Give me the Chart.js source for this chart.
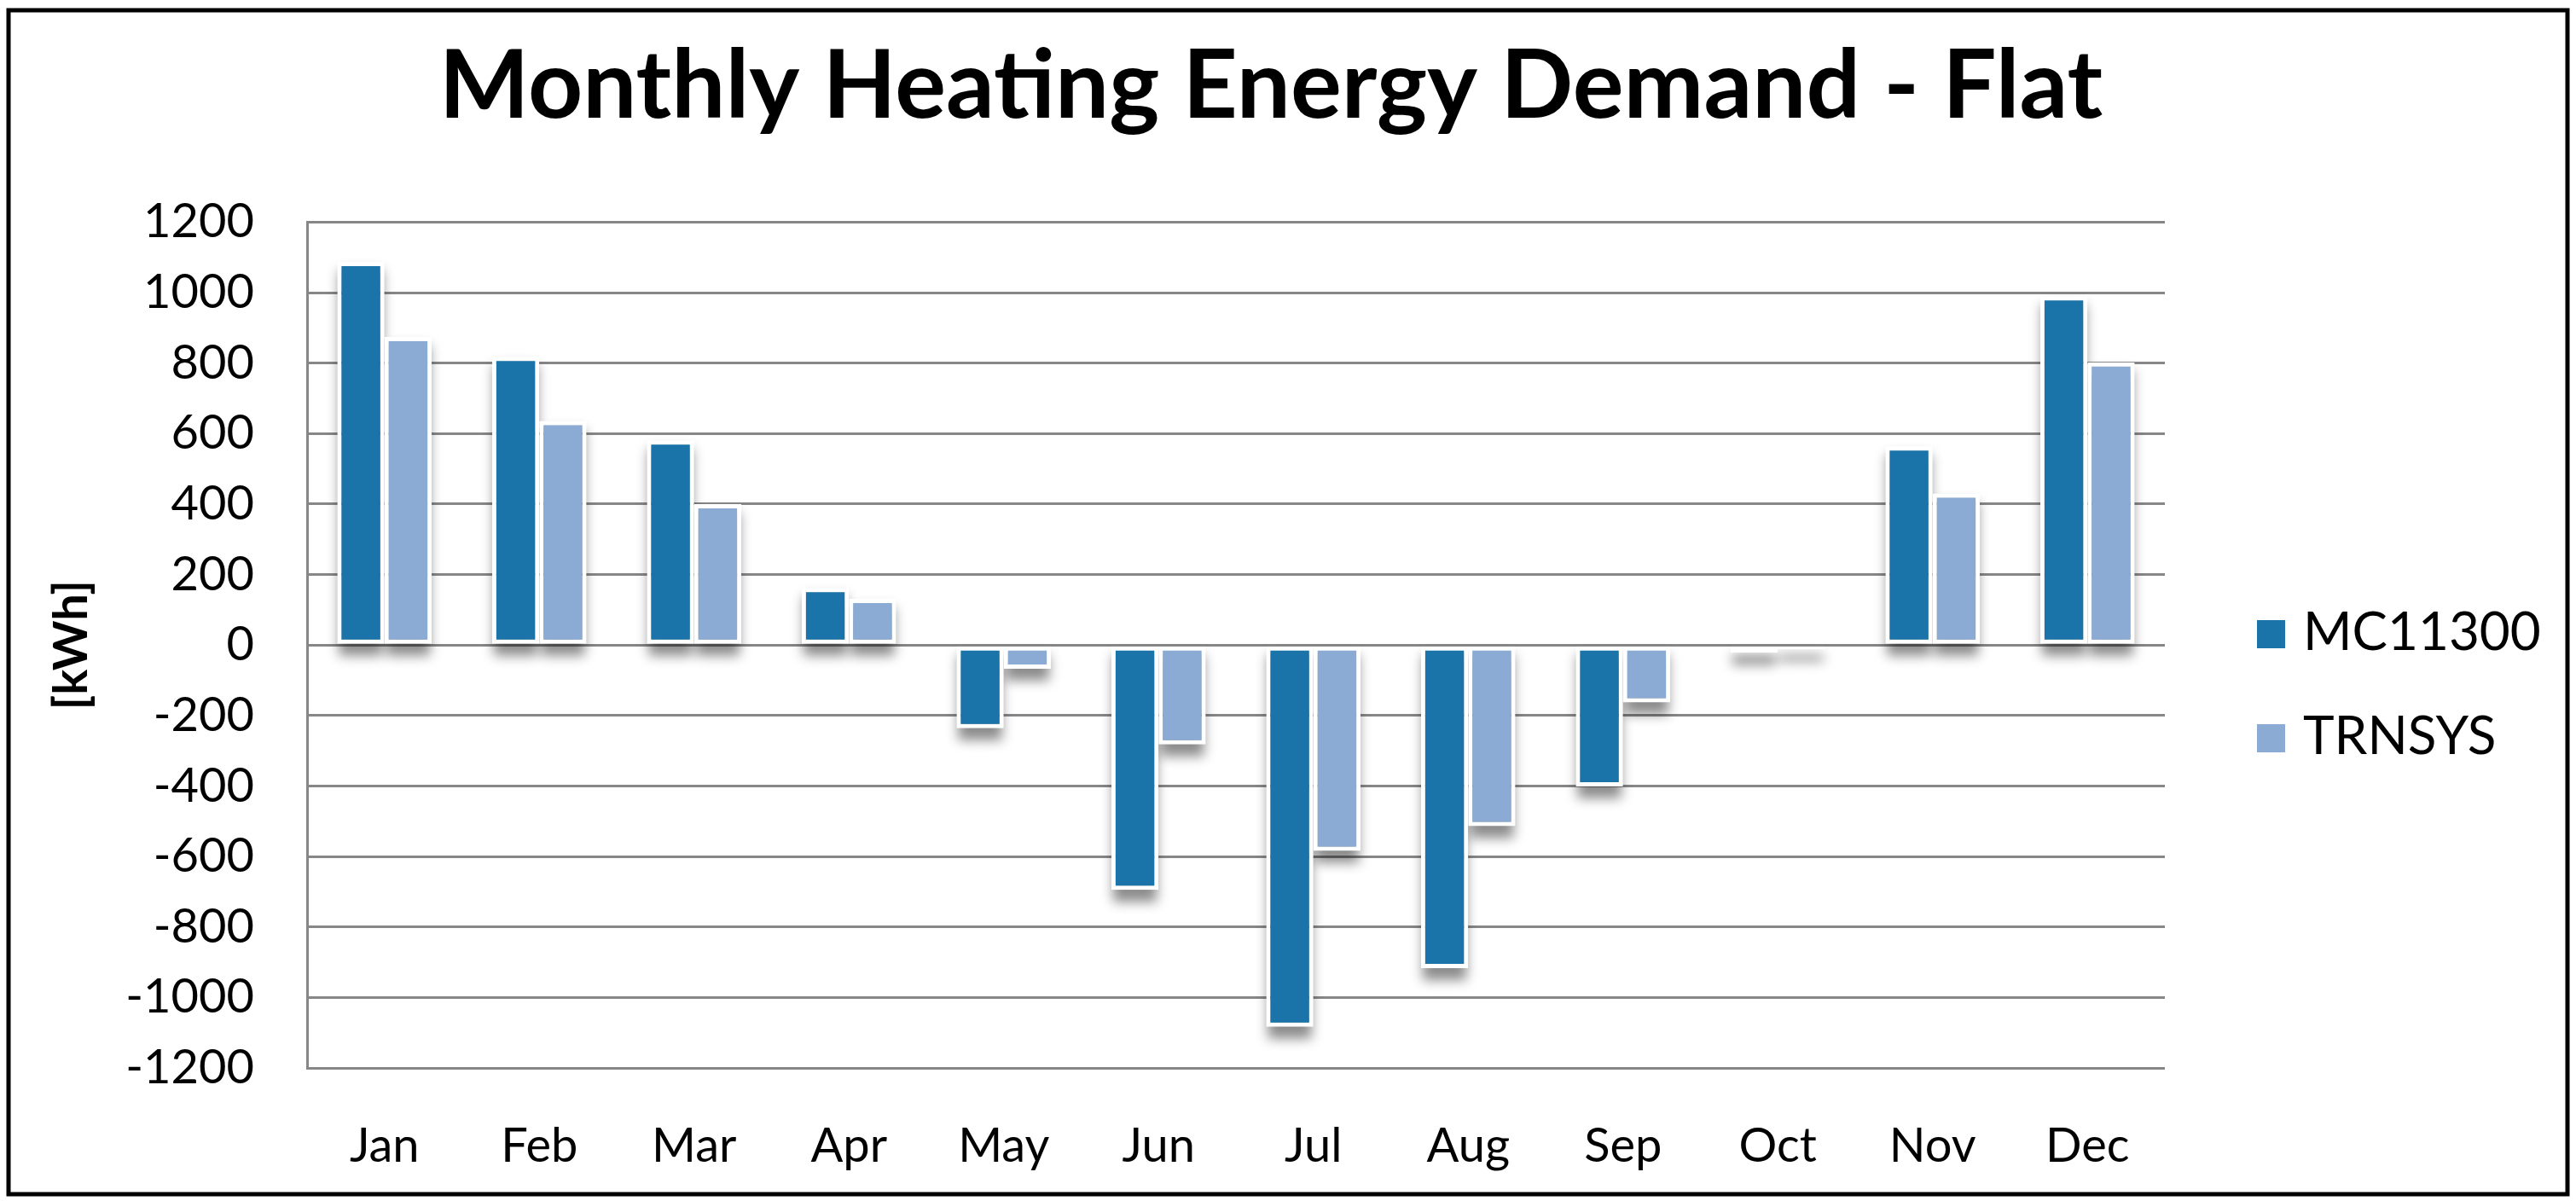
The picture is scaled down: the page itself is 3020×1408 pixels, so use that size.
<!DOCTYPE html>
<html>
<head>
<meta charset="utf-8">
<script src="https://cdn.jsdelivr.net/npm/chart.js@4.4.1/dist/chart.umd.min.js"></script>
<style>
  html, body { margin: 0; padding: 0; background: #ffffff; }
  canvas { display: block; }
</style>
</head>
<body>
<canvas id="barChart" width="3020" height="1408"></canvas>
<script>
const monthLabels = ['Jan', 'Feb', 'Mar', 'Apr', 'May', 'Jun', 'Jul', 'Aug', 'Sep', 'Oct', 'Nov', 'Dec'];
const mc11300Values = [1087, 818, 581, 162, -236, -695, -1083, -917, -401, -22, 564, 990];
const trnsysValues = [874, 636, 400, 131, -67, -282, -584, -514, -163, -12, 430, 802];
const yTickValues = [-1200, -1000, -800, -600, -400, -200, 0, 200, 400, 600, 800, 1000, 1200];

const jVarGridColor = '#878787';

// soft grey shadow under every bar, drawn from the bar geometry
const barShadowPlugin = {
    id: 'barShadow',
    beforeDatasetsDraw: (chart) => {
        const ctx = chart.ctx;
        ctx.save();
        ctx.filter = 'blur(7px)';
        ctx.fillStyle = 'rgba(0,0,0,0.45)';
        chart.data.datasets.forEach((ds, i) => {
            chart.getDatasetMeta(i).data.forEach((bar) => {
                const p = bar.getProps(['x', 'y', 'base', 'width'], true);
                const top = Math.min(p.y, p.base);
                const h = Math.abs(p.base - p.y);
                ctx.fillRect(p.x - p.width / 2 + 2, top + 10, p.width - 4, h + 4);
            });
        });
        ctx.restore();
    }
};

const sideLegendPlugin = {
    id: 'sideLegend',
    afterDraw: (chart) => {
        const ctx = chart.ctx;
        ctx.save();
        ctx.font = '62px Lato';
        ctx.textBaseline = 'middle';
        ctx.textAlign = 'left';
        chart.data.datasets.forEach((ds, i) => {
            const y = 727 + i * 122;
            ctx.fillStyle = ds.backgroundColor;
            ctx.fillRect(2646, y, 33, 33);
            ctx.fillStyle = '#000000';
            ctx.fillText(ds.label, 2700, y + 15);
        });
        ctx.restore();
    }
};

const frameBorderPlugin = {
    id: 'frameBorder',
    afterDraw: (chart) => {
        const ctx = chart.ctx;
        ctx.save();
        ctx.strokeStyle = '#000000';
        ctx.lineWidth = 5;
        ctx.strokeRect(10, 12, 3000, 1388);
        ctx.restore();
    }
};

const StartFunc = () => {
    const ctx = document.getElementById('barChart');

    new Chart(ctx, {
        type: 'bar',
        data: {
            labels: monthLabels,
            datasets: [{
                label: 'MC11300',
                data: mc11300Values,
                backgroundColor: '#1B74A9',
                borderColor: '#FFFFFF',
                borderWidth: 5,
                borderSkipped: false
            }, {
                label: 'TRNSYS',
                data: trnsysValues,
                backgroundColor: '#8BABD4',
                borderColor: '#FFFFFF',
                borderWidth: 5,
                borderSkipped: false
            }]
        },
        options: {
            responsive: false,
            animation: false,
            devicePixelRatio: 1,
            layout: { padding: { left: 0, right: 40, top: 0, bottom: 0 } },
            datasets: {
                bar: { categoryPercentage: 0.61, barPercentage: 1.0 }
            },
            plugins: {
                legend: { display: false },
                tooltip: { enabled: false },
                title: {
                    display: true,
                    text: 'Monthly Heating Energy Demand - Flat',
                    color: '#000000',
                    font: { family: 'Lato', size: 112, weight: 'bold', lineHeight: 1.2 },
                    padding: { top: 35, bottom: 91 }
                }
            },
            scales: {
                x: {
                    grid: { display: false, drawTicks: false },
                    border: { display: false },
                    ticks: {
                        color: '#000000',
                        padding: 58,
                        font: { family: 'Lato', size: 56 }
                    },
                    afterFit: (scale) => { scale.height = 156; }
                },
                y: {
                    min: -1200,
                    max: 1200,
                    afterBuildTicks: (scale) => {
                        scale.ticks = yTickValues.map((v) => ({ value: v }));
                    },
                    grid: { color: jVarGridColor, lineWidth: 3, drawTicks: false },
                    border: { display: true, color: jVarGridColor, width: 3 },
                    ticks: {
                        color: '#000000',
                        padding: 62,
                        font: { family: 'Lato', size: 56 },
                        callback: (v) => String(v)
                    },
                    title: {
                        display: true,
                        text: '[kWh]',
                        color: '#000000',
                        font: { family: 'Lato', size: 56, weight: 'bold', lineHeight: 1.2 },
                        padding: { top: 50, bottom: 0 }
                    },
                    afterFit: (scale) => { scale.width = 360; }
                },
                // empty right-hand space that holds the legend
                legendSpace: {
                    type: 'linear',
                    position: 'right',
                    display: true,
                    grid: { display: false, drawTicks: false },
                    border: { display: false },
                    ticks: { display: false },
                    afterFit: (scale) => { scale.width = 442; }
                }
            }
        },
        plugins: [barShadowPlugin, sideLegendPlugin, frameBorderPlugin]
    });
};

StartFunc();
</script>
</body>
</html>
